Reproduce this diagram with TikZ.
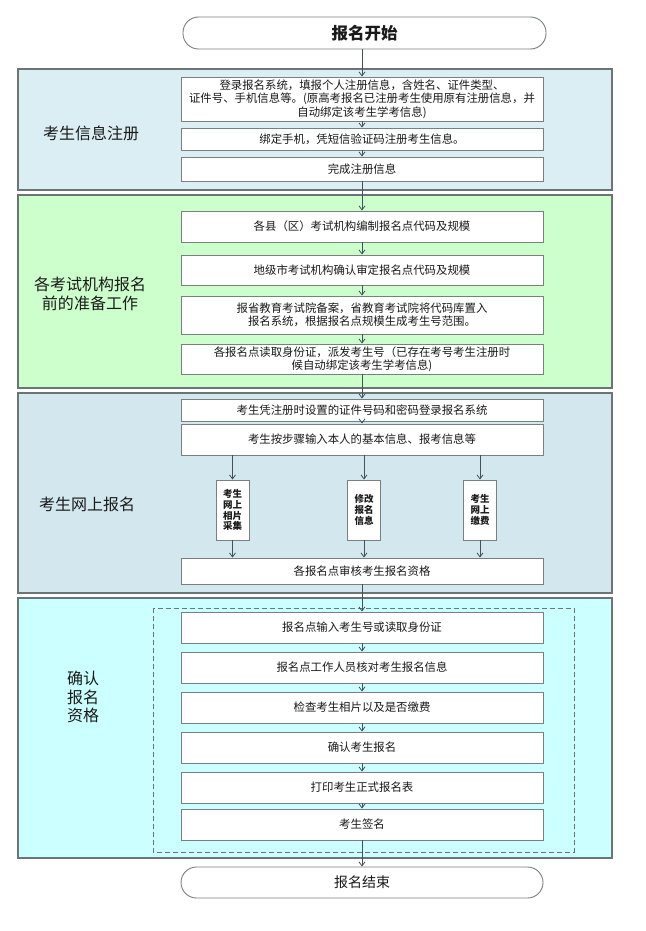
\documentclass[tikz,border=0pt]{standalone}
\usepackage{fontspec}
\setmainfont{Noto Sans CJK SC}
\usetikzlibrary{arrows.meta,positioning}
\definecolor{pA}{HTML}{DAEEF3}
\definecolor{pB}{HTML}{CCFFCC}
\definecolor{pC}{HTML}{D2E8EE}
\definecolor{pD}{HTML}{CCFFFF}
\definecolor{panelline}{HTML}{6B7575}
\definecolor{boxline}{HTML}{7A7F80}
\definecolor{arrowc}{HTML}{44505C}
\definecolor{txt}{HTML}{1A1A1A}
\tikzset{
  panel/.style={draw=panelline,line width=1.3pt},
  stepbox/.style={draw=boxline,fill=white,line width=0.9pt,minimum width=362pt,inner sep=0pt,align=center,text=txt,font=\fontsize{11.4}{13.5}\selectfont},
  vbox/.style={draw=boxline,fill=white,line width=0.9pt,minimum width=33pt,minimum height=60pt,inner sep=0pt,align=center,text=txt,font=\fontsize{9.5}{10.8}\selectfont\bfseries},
  term/.style={draw=boxline,fill=white,line width=0.9pt,rounded corners=15.5pt,inner sep=0pt,text=txt},
  lbl/.style={align=center,text=txt,font=\fontsize{16}{18.5}\selectfont},
  flow/.style={draw=arrowc,line width=0.8pt,-{Straight Barb[length=4pt,width=6pt]}},
}
\begin{document}
\begin{tikzpicture}[x=1pt,y=-1pt]
\useasboundingbox (0,0) rectangle (645,931);
\fill[white] (0,0) rectangle (645,931);
% panels
\draw[panel,fill=pA] (18,69) rectangle (612,190);
\draw[panel,fill=pB] (18,195) rectangle (612,388);
\draw[panel,fill=pC] (18,393) rectangle (612,593);
\draw[panel,fill=pD] (18,598) rectangle (612,858);
\draw[draw=panelline,line width=0.9pt,dash pattern=on 5pt off 3pt] (153,608) rectangle (574,852);
% labels
\node[lbl] (l1) at (91,133) {考生信息注册};
\node[lbl] (l2) at (90,294) {各考试机构报名\\前的准备工作};
\node[lbl] (l3) at (87,504) {考生网上报名};
\node[lbl] (l4) at (83,697) {确认\\报名\\资格};
% start
\node[term,minimum width=363pt,minimum height=32pt,font=\fontsize{16.5}{19}\selectfont\bfseries] (start) at (364.5,33) {报名开始};
% panel 1
\node[stepbox,minimum height=44pt] (a1) at (362,99) {登录报名系统，填报个人注册信息，含姓名、证件类型、\\证件号、手机信息等。(原高考报名已注册考生使用原有注册信息，并\\自动绑定该考生学考信息)};
\node[stepbox,minimum height=22pt] (a2) at (362,139) {绑定手机，凭短信验证码注册考生信息。};
\node[stepbox,minimum height=24pt] (a3) at (362,169) {完成注册信息};
% panel 2
\node[stepbox,minimum height=31pt] (b1) at (362,226.5) {各县（区）考试机构编制报名点代码及规模};
\node[stepbox,minimum height=30pt] (b2) at (362,270) {地级市考试机构确认审定报名点代码及规模};
\node[stepbox,minimum height=38pt] (b3) at (362,315) {报省教育考试院备案，省教育考试院将代码库置入\\报名系统，根据报名点规模生成考生号范围。};
\node[stepbox,minimum height=30pt] (b4) at (362,359) {各报名点读取身份证，派发考生号（已存在考号考生注册时\\候自动绑定该考生学考信息)};
% panel 3
\node[stepbox,minimum height=22pt] (c1) at (362,410) {考生凭注册时设置的证件号码和密码登录报名系统};
\node[stepbox,minimum height=31pt] (c2) at (362,439.5) {考生按步骤输入本人的基本信息、报考信息等};
\node[vbox] (v1) at (232.5,510) {考生\\网上\\相片\\采集};
\node[vbox] (v2) at (364,510) {修改\\报名\\信息};
\node[vbox] (v3) at (480,510) {考生\\网上\\缴费};
\node[stepbox,minimum height=26pt] (c3) at (362,571) {各报名点审核考生报名资格};
% panel 4
\node[stepbox,minimum height=31pt] (d1) at (362,627.5) {报名点输入考生号或读取身份证};
\node[stepbox,minimum height=31pt] (d2) at (362,667.5) {报名点工作人员核对考生报名信息};
\node[stepbox,minimum height=31pt] (d3) at (362,707.5) {检查考生相片以及是否缴费};
\node[stepbox,minimum height=31pt] (d4) at (362,747.5) {确认考生报名};
\node[stepbox,minimum height=31pt] (d5) at (362,787.5) {打印考生正式报名表};
\node[stepbox,minimum height=31pt] (d6) at (362,824.5) {考生签名};
% end
\node[term,minimum width=362pt,minimum height=31pt,font=\fontsize{14}{17}\selectfont] (end) at (362,882.5) {报名结束};
% connectors
\draw[flow] (start.south -| a1.north) -- (a1.north);
\draw[flow] (a1) -- (a2);
\draw[flow] (a2) -- (a3);
\draw[flow] (a3) -- (b1);
\draw[flow] (b1) -- (b2);
\draw[flow] (b2) -- (b3);
\draw[flow] (b3) -- (b4);
\draw[flow] (b4) -- (c1);
\draw[flow] (c1) -- (c2);
\draw[flow] (c2.south -| v1.north) -- (v1.north);
\draw[flow] (c2.south -| v2.north) -- (v2.north);
\draw[flow] (c2.south -| v3.north) -- (v3.north);
\draw[flow] (v1.south) -- (v1.south |- c3.north);
\draw[flow] (v2.south) -- (v2.south |- c3.north);
\draw[flow] (v3.south) -- (v3.south |- c3.north);
\draw[flow] (c3) -- (d1);
\draw[flow] (d1) -- (d2);
\draw[flow] (d2) -- (d3);
\draw[flow] (d3) -- (d4);
\draw[flow] (d4) -- (d5);
\draw[flow] (d5) -- (d6);
\draw[flow] (d6.south) -- (end.north);
\end{tikzpicture}
\end{document}
